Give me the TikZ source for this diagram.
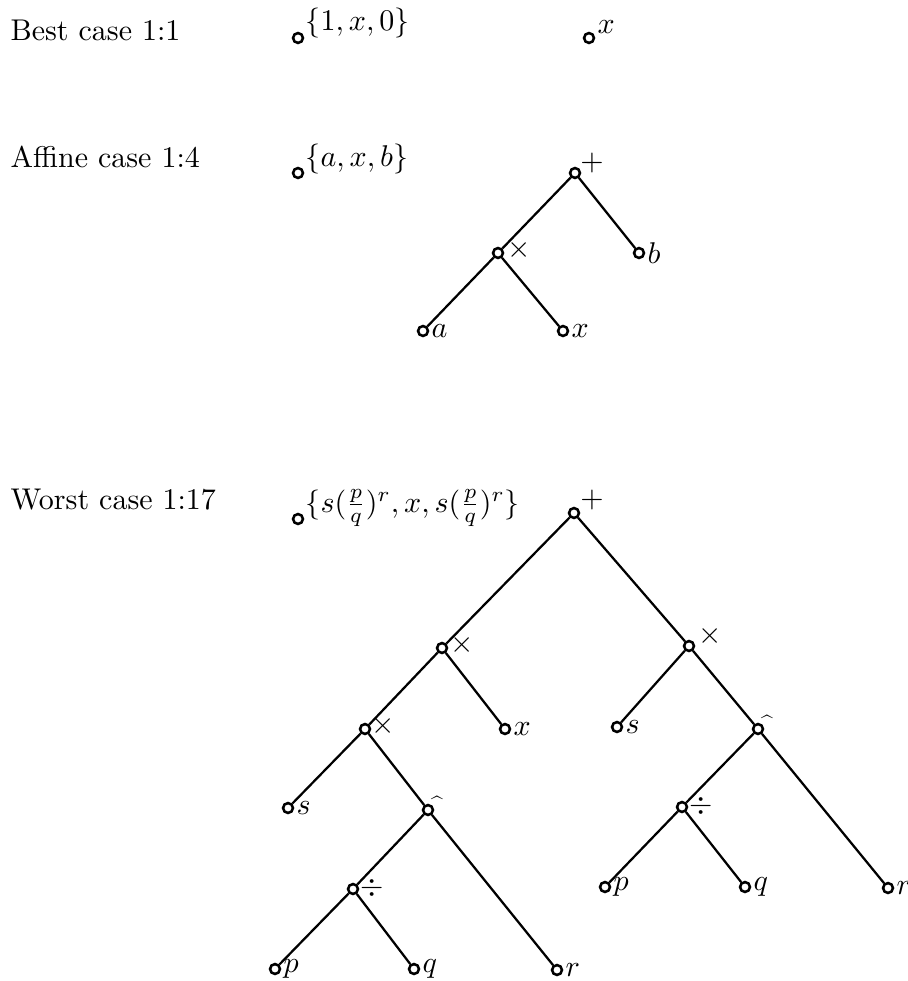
\documentclass[tikz,border=0pt]{standalone}
\begin{document}
\begin{tikzpicture}[x=0.33333pt,y=-0.33333pt,
  vtx/.style={circle,draw,line width=0.85pt,fill=white,inner sep=0pt,minimum size=3.3pt},
  edge/.style={line width=0.75pt},
  leaflab/.style={anchor=west,inner sep=0pt},
  oplab/.style={anchor=center,inner sep=0pt},
  hatlab/.style={anchor=base,inner sep=0pt},
  setlab/.style={anchor=base west,inner sep=0pt},
  rowlab/.style={anchor=base west,inner sep=0pt}]
\useasboundingbox (0,0) rectangle (907,981);

% row titles
\node[rowlab] (r1) at (10,41) {Best case 1:1};
\node[rowlab] (r2) at (10,168) {Affine case 1:4};
\node[rowlab] (r3) at (10,509) {Worst case 1:17};

% ---------- row 1
\node[vtx] (s1) at (298,38) {};
\node[setlab] (s1l) at (305,31) {$\{1,x,0\}$};
\node[vtx] (t1) at (589,38) {};
\node[setlab] (t1l) at (597,34) {$x$};

% ---------- row 2
\node[vtx] (s2) at (298,173) {};
\node[setlab] (s2l) at (305,167) {$\{a,x,b\}$};

\node[vtx] (p2) at (575,173) {};
\node[vtx] (m2) at (498,253) {};
\node[vtx] (b2) at (639,253) {};
\node[vtx] (a2) at (423,331) {};
\node[vtx] (x2) at (563,331) {};
\draw[edge] (p2) -- (m2);
\draw[edge] (p2) -- (b2);
\draw[edge] (m2) -- (a2);
\draw[edge] (m2) -- (x2);
\node[oplab] (p2l) at ([shift={(17,-10)}]p2.center) {$+$};
\node[oplab] (m2l) at ([shift={(21,-3)}]m2.center) {$\times$};
\node[leaflab] (b2l) at ([shift={(8,0)}]b2.center) {$b$};
\node[leaflab] (a2l) at ([shift={(8,0)}]a2.center) {$a$};
\node[leaflab] (x2l) at ([shift={(8,0)}]x2.center) {$x$};

% ---------- row 3
\node[vtx] (s3) at (298,519) {};
\node[setlab] (s3l) at (305,512) {$\{s(\frac{p}{q})^r,x,s(\frac{p}{q})^r\}$};

\node[vtx] (p3) at (574,513) {};
\node[vtx] (tL) at (442,648) {};
\node[vtx] (tR) at (689,646) {};
\node[vtx] (tLL) at (365,729) {};
\node[vtx] (xL) at (505,729) {};
\node[vtx] (sR) at (617,727) {};
\node[vtx] (hR) at (758,729) {};
\node[vtx] (sLL) at (288,808) {};
\node[vtx] (hL) at (428,810) {};
\node[vtx] (dR) at (682,807) {};
\node[vtx] (dL) at (353,889) {};
\node[vtx] (pR) at (605,887) {};
\node[vtx] (qR) at (745,887) {};
\node[vtx] (rR) at (888,888) {};
\node[vtx] (pL) at (275,969) {};
\node[vtx] (qL) at (414,969) {};
\node[vtx] (rL) at (557,970) {};

\draw[edge] (p3) -- (tL);
\draw[edge] (p3) -- (tR);
\draw[edge] (tL) -- (tLL);
\draw[edge] (tL) -- (xL);
\draw[edge] (tR) -- (sR);
\draw[edge] (tR) -- (hR);
\draw[edge] (tLL) -- (sLL);
\draw[edge] (tLL) -- (hL);
\draw[edge] (hR) -- (dR);
\draw[edge] (hR) -- (rR);
\draw[edge] (hL) -- (dL);
\draw[edge] (hL) -- (rL);
\draw[edge] (dR) -- (pR);
\draw[edge] (dR) -- (qR);
\draw[edge] (dL) -- (pL);
\draw[edge] (dL) -- (qL);

\node[oplab] (p3l) at ([shift={(18,-13)}]p3.center) {$+$};
\node[oplab] (tLl) at ([shift={(20,-3)}]tL.center) {$\times$};
\node[oplab] (tRl) at ([shift={(21,-10)}]tR.center) {$\times$};
\node[oplab] (tLLl) at ([shift={(18,-3)}]tLL.center) {$\times$};
\node[hatlab] (hRl) at ([shift={(9,1)}]hR.center) {\scriptsize\^{}};
\node[hatlab] (hLl) at ([shift={(9,1)}]hL.center) {\scriptsize\^{}};
\node[oplab] (dRl) at ([shift={(19,-1)}]dR.center) {$\div$};
\node[oplab] (dLl) at ([shift={(19,-1)}]dL.center) {$\div$};
\node[leaflab] (xLl) at ([shift={(8,0)}]xL.center) {$x$};
\node[leaflab] (sRl) at ([shift={(8,0)}]sR.center) {$s$};
\node[leaflab] (sLLl) at ([shift={(8,0)}]sLL.center) {$s$};
\node[leaflab] (pRl) at ([shift={(8,0)}]pR.center) {$p$};
\node[leaflab] (qRl) at ([shift={(8,0)}]qR.center) {$q$};
\node[leaflab] (rRl) at ([shift={(8,0)}]rR.center) {$r$};
\node[leaflab] (pLl) at ([shift={(8,0)}]pL.center) {$p$};
\node[leaflab] (qLl) at ([shift={(8,0)}]qL.center) {$q$};
\node[leaflab] (rLl) at ([shift={(8,0)}]rL.center) {$r$};
\end{tikzpicture}
\end{document}
